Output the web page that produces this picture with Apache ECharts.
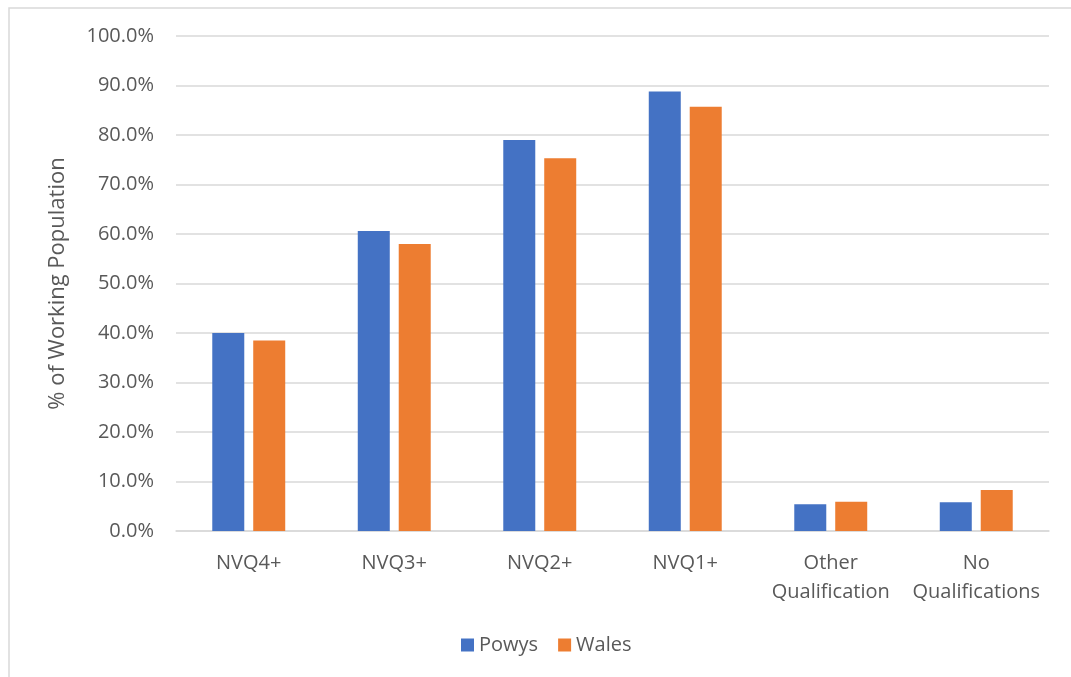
<!DOCTYPE html>
<html>
<head>
<meta charset="utf-8">
<script src="https://cdn.jsdelivr.net/npm/echarts@6/dist/echarts.min.js"></script>
<style>
  html, body { margin: 0; padding: 0; background: #ffffff; }
  #chart { width: 1071px; height: 677px; }
</style>
</head>
<body>
<div id="chart"></div>
<script>
// Highest qualification held, share of the working-age population
const categories = ['NVQ4+', 'NVQ3+', 'NVQ2+', 'NVQ1+', 'Other\nQualification', 'No\nQualifications'];
const powys = [40.0, 60.6, 79.0, 88.8, 5.4, 5.8];
const wales = [38.5, 58.0, 75.3, 85.7, 5.9, 8.3];
const yTicks = { min: 0, max: 100, interval: 10 };

const chart = echarts.init(document.getElementById('chart'), null, { renderer: 'canvas' });
const font = '"Open Sans", "Liberation Sans", sans-serif';

chart.setOption({
  animation: false,
  backgroundColor: '#ffffff',
  graphic: [
    {
      type: 'rect',
      shape: { x: 9, y: 8, width: 1200, height: 800 },
      style: { fill: 'none', stroke: '#d9d9d9', lineWidth: 1.5 },
      silent: true,
      z: -1
    }
  ],
  grid: { left: 176, right: 22, top: 36, bottom: 146, containLabel: false },
  legend: {
    top: 630,
    left: 456,
    itemWidth: 13,
    itemHeight: 13,
    itemGap: 20,
    icon: 'rect',
    textStyle: { color: '#595959', fontSize: 20, fontFamily: font },
    data: ['Powys', 'Wales']
  },
  xAxis: {
    type: 'category',
    data: categories,
    axisLine: { show: true, lineStyle: { color: '#d9d9d9', width: 1.5 } },
    axisTick: { show: false },
    axisLabel: {
      color: '#595959',
      fontSize: 20,
      fontFamily: font,
      margin: 18,
      lineHeight: 29,
      interval: 0
    }
  },
  yAxis: {
    type: 'value',
    min: yTicks.min,
    max: yTicks.max,
    interval: yTicks.interval,
    name: '% of Working Population',
    nameLocation: 'middle',
    nameGap: 107,
    nameTextStyle: { color: '#595959', fontSize: 22, fontFamily: font },
    axisLine: { show: false },
    axisTick: { show: false },
    splitLine: { lineStyle: { color: '#d9d9d9', width: 1.5 } },
    axisLabel: {
      color: '#595959',
      fontSize: 20,
      fontFamily: font,
      margin: 22,
      formatter: v => v.toFixed(1) + '%'
    }
  },
  series: [
    {
      name: 'Powys',
      type: 'bar',
      data: powys,
      barWidth: 32,
      barGap: '28%',
      itemStyle: { color: '#4472c4' }
    },
    {
      name: 'Wales',
      type: 'bar',
      data: wales,
      barWidth: 32,
      itemStyle: { color: '#ed7d31' }
    }
  ]
});
</script>
</body>
</html>
